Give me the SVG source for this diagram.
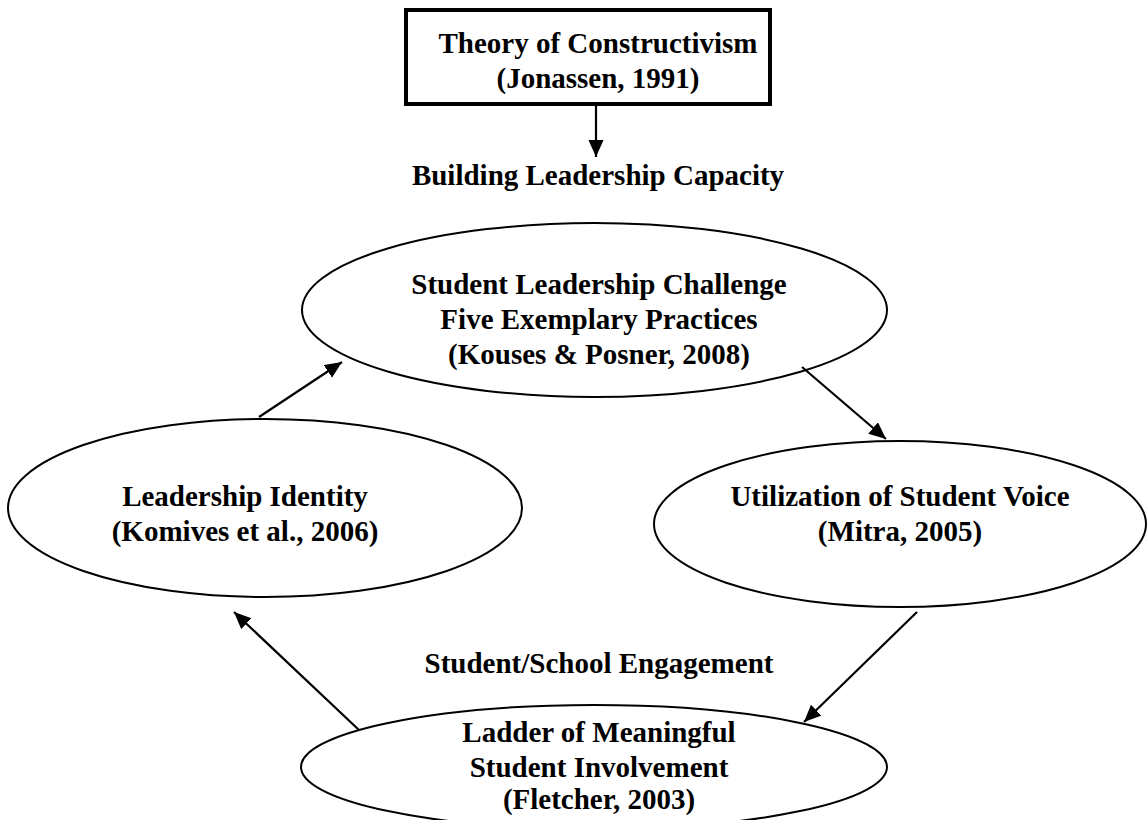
<svg xmlns="http://www.w3.org/2000/svg" width="1147" height="820" viewBox="0 0 1147 820">
  <style>
    .lbl { font-family: "Liberation Serif", "Times New Roman", serif; font-weight: bold; font-size: 29px; fill: #000; text-anchor: middle; }
    .node { fill: #fff; stroke: #000; stroke-width: 2; }
    .box { fill: #fff; stroke: #000; stroke-width: 4; }
    .edge { fill: none; stroke: #000; stroke-width: 2.2; marker-end: url(#head); }
  </style>
  <defs>
    <marker id="head" markerUnits="userSpaceOnUse" markerWidth="18" markerHeight="16" refX="17" refY="7.5" orient="auto">
      <path d="M0,0 L17,7.5 L0,15 z" fill="#000"/>
    </marker>
  </defs>
  <rect width="1147" height="820" fill="#fff"/>

  <g id="theory">
    <rect class="box" x="406" y="10" width="364" height="94"/>
    <text class="lbl" x="598" y="53">Theory of Constructivism</text>
    <text class="lbl" x="598" y="88">(Jonassen, 1991)</text>
  </g>

  <g id="capacity">
    <text class="lbl" x="598" y="185">Building Leadership Capacity</text>
  </g>

  <g id="challenge">
    <ellipse class="node" cx="594.5" cy="310" rx="292.5" ry="87"/>
    <text class="lbl" x="599" y="294">Student Leadership Challenge</text>
    <text class="lbl" x="599" y="329">Five Exemplary Practices</text>
    <text class="lbl" x="599" y="364">(Kouses &amp; Posner, 2008)</text>
  </g>

  <g id="identity">
    <ellipse class="node" cx="265" cy="508" rx="257" ry="89"/>
    <text class="lbl" x="245" y="506">Leadership Identity</text>
    <text class="lbl" x="245" y="541">(Komives et al., 2006)</text>
  </g>

  <g id="voice">
    <ellipse class="node" cx="900" cy="524" rx="246" ry="83"/>
    <text class="lbl" x="900" y="506">Utilization of Student Voice</text>
    <text class="lbl" x="900" y="541">(Mitra, 2005)</text>
  </g>

  <g id="engagement">
    <text class="lbl" x="599" y="673">Student/School Engagement</text>
  </g>

  <g id="ladder">
    <ellipse class="node" cx="594" cy="767" rx="293" ry="62"/>
    <text class="lbl" x="599" y="742">Ladder of Meaningful</text>
    <text class="lbl" x="599" y="777">Student Involvement</text>
    <text class="lbl" x="599" y="809">(Fletcher, 2003)</text>
  </g>

  <g id="connectors">
    <line class="edge" x1="596" y1="104" x2="596" y2="157"/>
    <line class="edge" x1="259" y1="417" x2="342" y2="362"/>
    <line class="edge" x1="802" y1="367" x2="886" y2="439"/>
    <line class="edge" x1="917" y1="612" x2="804" y2="722"/>
    <line class="edge" x1="359" y1="730" x2="234" y2="612"/>
  </g>
</svg>
